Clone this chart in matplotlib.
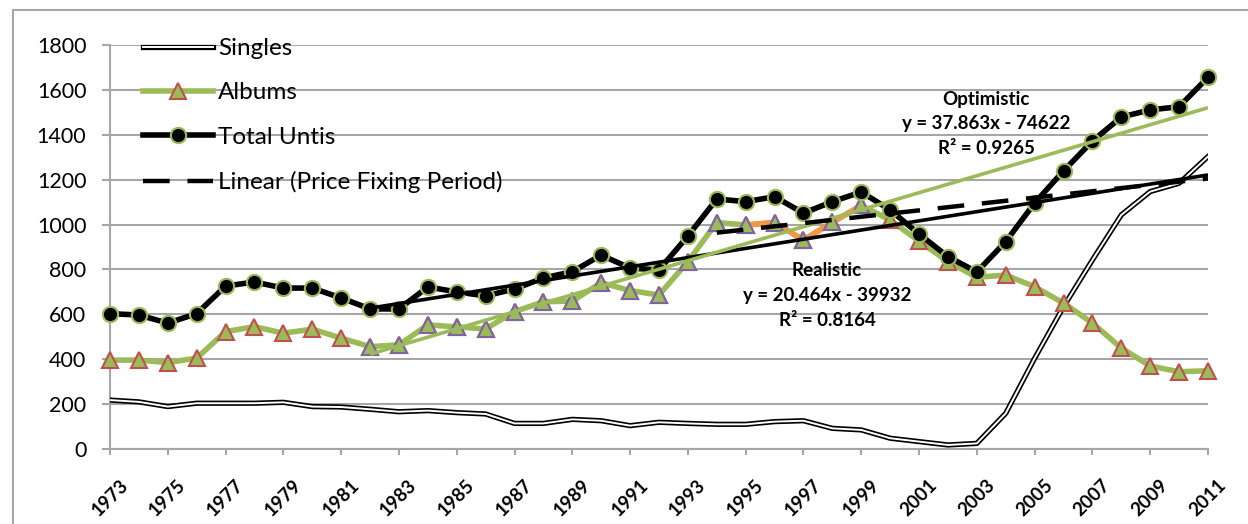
import numpy as np
import matplotlib
matplotlib.use('Agg')
import matplotlib.pyplot as plt
import matplotlib.patheffects as pe
from matplotlib.lines import Line2D
from matplotlib.transforms import ScaledTranslation

# Data (units in thousands)
years = np.arange(1973, 2012)
singles = [218, 210, 189, 204, 204, 204, 208, 189, 187, 177, 166, 171, 162, 156,
           114, 114, 132, 126, 104, 119, 114, 110, 110, 122, 126, 92, 85, 48, 33,
           18, 25, 159, 404, 634, 842, 1043, 1147, 1184, 1303]
albums = [396, 396, 385, 405, 523, 545, 516, 534, 494, 456, 464, 553, 544, 535,
          612, 656, 659, 741, 706, 686, 835, 1009, 998, 1009, 931, 1010, 1085, 1020,
          926, 835, 765, 775, 723, 650, 561, 450, 370, 344, 349]
total = [603, 597, 561, 603, 726, 744, 717, 717, 673, 624, 624, 722, 700, 682,
         713, 762, 790, 864, 806, 798, 949, 1114, 1102, 1124, 1051, 1102, 1145, 1065,
         958, 857, 789, 924, 1096, 1239, 1372, 1479, 1511, 1525, 1656]

# trend lines: (slope, intercept, first year, last year)
realistic_fit = (20.464, -39932, 1982, 2011)
optimistic_fit = (37.863, -74622, 1982, 2011)
price_fix_fit = (14.2, -27351, 1994, 2011)
purple_years = (1982, 1999)
orange_years = (1995, 1999)

GREEN = '#9BBB59'
RED = '#C0504D'
PURPLE = '#8064A2'
ORANGE = '#F79646'
GRID = '#A6A6A6'

plt.rcParams['font.family'] = ['Lato', 'DejaVu Sans']

fig = plt.figure(figsize=(12.48, 5.24), dpi=100)
ax = fig.add_axes([110 / 1248, 1 - 449 / 524, 1098 / 1248, 404 / 524])

# outer chart frame
fig.add_artist(Line2D([13 / 1248, 13 / 1248], [0, 1 - 10 / 524], color=GRID, lw=1.5,
                      transform=fig.transFigure))
fig.add_artist(Line2D([13 / 1248, 1], [1 - 10 / 524, 1 - 10 / 524], color=GRID, lw=1.5,
                      transform=fig.transFigure))

yrs = np.array(years)
alb = np.array(albums)

ax.plot(years, singles, color='white', lw=1.4, zorder=3, label='Singles',
        path_effects=[pe.Stroke(linewidth=3.8, foreground='black'), pe.Normal()])

ax.plot(years, albums, color=GREEN, lw=4, marker='^', ms=12, mfc=GREEN, mec=RED,
        mew=1.5, zorder=4, clip_on=False, label='Albums')
m = (yrs >= orange_years[0]) & (yrs <= orange_years[1])
ax.plot(yrs[m], alb[m], color=ORANGE, lw=4, zorder=4.1, solid_capstyle='butt')
m = (yrs >= purple_years[0]) & (yrs <= purple_years[1])
ax.plot(yrs[m], alb[m], ls='none', marker='^', ms=12, mfc=GREEN, mec=PURPLE,
        mew=1.5, zorder=4.2)

ax.plot(years, total, color='black', lw=4, marker='o', ms=11, mfc='black', mec=GREEN,
        mew=1.5, zorder=6, clip_on=False, label='Total Untis')

for (k, b, x0, x1), col, lw in [(realistic_fit, 'black', 2.6), (optimistic_fit, GREEN, 2.6)]:
    xs = np.array([x0, x1])
    ax.plot(xs, k * xs + b, color=col, lw=lw, zorder=7, solid_capstyle='butt')
k, b, x0, x1 = price_fix_fit
xs = np.array([x0, x1])
ax.plot(xs, k * xs + b, color='black', lw=3.2, ls=(0, (6, 4)), zorder=7,
        label='Linear (Price Fixing Period)')

ax.set_xlim(1973, 2011)
ax.set_ylim(0, 1800)
ax.set_yticks(range(0, 1801, 200))
ax.set_xticks(years[::2])
ax.yaxis.grid(True, color=GRID, lw=1.5, zorder=0)
ax.set_axisbelow(True)
for s in ['top', 'right']:
    ax.spines[s].set_visible(False)
for s in ['left', 'bottom']:
    ax.spines[s].set_color(GRID)
    ax.spines[s].set_linewidth(1.5)
ax.tick_params(axis='y', direction='out', length=6, width=1.5, color=GRID,
               labelsize=15.5, pad=11)
ax.tick_params(axis='x', direction='out', length=4.5, width=1.5, color=GRID,
               labelsize=13.5, pad=15)
off = ScaledTranslation(9 / 100, 0, fig.dpi_scale_trans)
for lab in ax.get_xticklabels():
    lab.set_rotation(45)
    lab.set_ha('right')
    lab.set_va('top')
    lab.set_rotation_mode('anchor')
    lab.set_fontweight('bold')
    lab.set_transform(lab.get_transform() + off)

handles, labels = ax.get_legend_handles_labels()
leg = ax.legend(handles, labels, loc='upper left', frameon=False, fontsize=17.5,
                handlelength=2.88, handletextpad=0.2, labelspacing=0.96,
                bbox_to_anchor=(143 / 1248, 1 - 38 / 524), bbox_transform=fig.transFigure,
                borderaxespad=0, borderpad=0)
leg.set_zorder(10)

def fx(px):
    return px / 1248

def fy(py):
    return 1 - py / 524

txt = dict(ha='center', va='center', fontsize=13.5, fontweight='bold')
fig.text(fx(986), fy(99), 'Optimistic', **txt)
fig.text(fx(986), fy(123), 'y = 37.863x - 74622', **txt)
fig.text(fx(986), fy(148), 'R² = 0.9265', **txt)
fig.text(fx(827), fy(271), 'Realistic', **txt)
fig.text(fx(827), fy(295), 'y = 20.464x - 39932', **txt)
fig.text(fx(827), fy(320), 'R² = 0.8164', **txt)

fig.savefig('out.png', dpi=100, facecolor='white')
